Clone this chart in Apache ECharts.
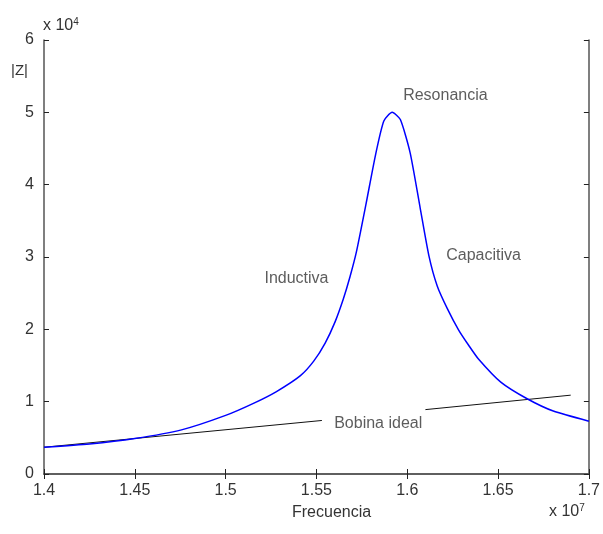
<!DOCTYPE html>
<html>
<head>
<meta charset="utf-8">
<script src="https://cdn.jsdelivr.net/npm/echarts@6/dist/echarts.min.js"></script>
<style>
  html, body { margin: 0; padding: 0; background: #fff; }
  #main { width: 603px; height: 534px; }
</style>
</head>
<body>
<div id="main"></div>
<script>
// frequency in units of 1e7, |Z| in units of 1e4
var freq = [1.400, 1.425, 1.450, 1.4757, 1.500, 1.5156, 1.528, 1.5412, 1.5485, 1.5548,
            1.5602, 1.5648, 1.5684, 1.572, 1.5772, 1.5826, 1.5871, 1.5917, 1.5962, 1.6016,
            1.6071, 1.6119, 1.6165, 1.622, 1.6283, 1.6338, 1.6392, 1.6515, 1.666, 1.6804,
            1.700];
var zMag = [0.37, 0.415, 0.49, 0.61, 0.81, 0.98, 1.14, 1.36, 1.56, 1.81,
            2.10, 2.42, 2.72, 3.07, 3.72, 4.42, 4.88, 5.00, 4.90, 4.44,
            3.68, 3.02, 2.60, 2.29, 1.99, 1.78, 1.59, 1.27, 1.04, 0.87,
            0.73];

// ideal coil line, broken where its label sits
var idealFreq = [1.400, 1.553, 1.580, 1.610, 1.690];
var idealZ = [0.37, 0.74, '-', 0.89, 1.09];

var annotations = [
    { text: 'Resonancia', x: 1.621, y: 5.23 },
    { text: 'Inductiva', x: 1.539, y: 2.70 },
    { text: 'Capacitiva', x: 1.642, y: 3.02 },
    { text: 'Bobina ideal', x: 1.584, y: 0.69 }
];

var xMin = 1.4, xMax = 1.7, xStep = 0.05;
var yMin = 0, yMax = 6, yStep = 1;

var frame = '#555';
var textColor = '#333';
var font = 'Liberation Sans';

function pairs(xs, ys) {
    return xs.map(function (x, i) { return [x, ys[i]]; });
}

var axisCommon = {
    axisLine: { show: true, lineStyle: { color: frame, width: 1.5 } },
    axisTick: { show: true, inside: true, length: 5, lineStyle: { color: '#222' } },
    splitLine: { show: false }
};

var supRich = { s: { fontSize: 10, verticalAlign: 'top', padding: [0, 0, 8, 0], fill: textColor } };

var myChart = echarts.init(document.getElementById('main'));

option = {
    animation: false,
    grid: { left: 44, top: 40, right: 8, bottom: 60 },
    xAxis: [
        Object.assign({
            type: 'value', min: xMin, max: xMax, interval: xStep,
            axisLabel: {
                color: textColor, fontFamily: font, fontSize: 16, margin: 9,
                formatter: function (v) { return String(+v.toFixed(2)); }
            }
        }, axisCommon),
        Object.assign({
            type: 'value', min: xMin, max: xMax, interval: xStep, position: 'top',
            axisLabel: { show: false }
        }, axisCommon)
    ],
    yAxis: [
        Object.assign({
            type: 'value', min: yMin, max: yMax, interval: yStep,
            axisLabel: { color: textColor, fontFamily: font, fontSize: 16, margin: 10 }
        }, axisCommon),
        Object.assign({
            type: 'value', min: yMin, max: yMax, interval: yStep, position: 'right',
            axisLabel: { show: false }
        }, axisCommon)
    ],
    graphic: [
        { type: 'text', left: 11, top: 63, style: { text: '|Z|', fill: textColor, font: '15px ' + font } },
        {
            type: 'text', left: 43, top: 17,
            style: { text: 'x 10{s|4}', fill: textColor, font: '16px ' + font, rich: supRich }
        },
        { type: 'text', left: 292, top: 505, style: { text: 'Frecuencia', fill: textColor, font: '16px ' + font } },
        {
            type: 'text', left: 549, top: 503,
            style: { text: 'x 10{s|7}', fill: textColor, font: '16px ' + font, rich: supRich }
        }
    ],
    series: [
        {
            name: 'Bobina ideal',
            type: 'line',
            data: pairs(idealFreq, idealZ),
            symbol: 'none',
            connectNulls: false,
            lineStyle: { color: '#111', width: 1 },
            z: 2
        },
        {
            name: '|Z|',
            type: 'line',
            data: pairs(freq, zMag),
            symbol: 'none',
            smooth: 0.2,
            lineStyle: { color: '#0000ff', width: 1.5 },
            z: 3
        },
        {
            name: 'labels',
            type: 'scatter',
            symbolSize: 0,
            data: annotations.map(function (a) { return { value: [a.x, a.y], name: a.text }; }),
            label: {
                show: true, position: 'inside', formatter: '{b}',
                color: textColor, fontFamily: font, fontSize: 16
            },
            silent: true,
            z: 4
        }
    ]
};

myChart.setOption(option);
</script>
</body>
</html>
